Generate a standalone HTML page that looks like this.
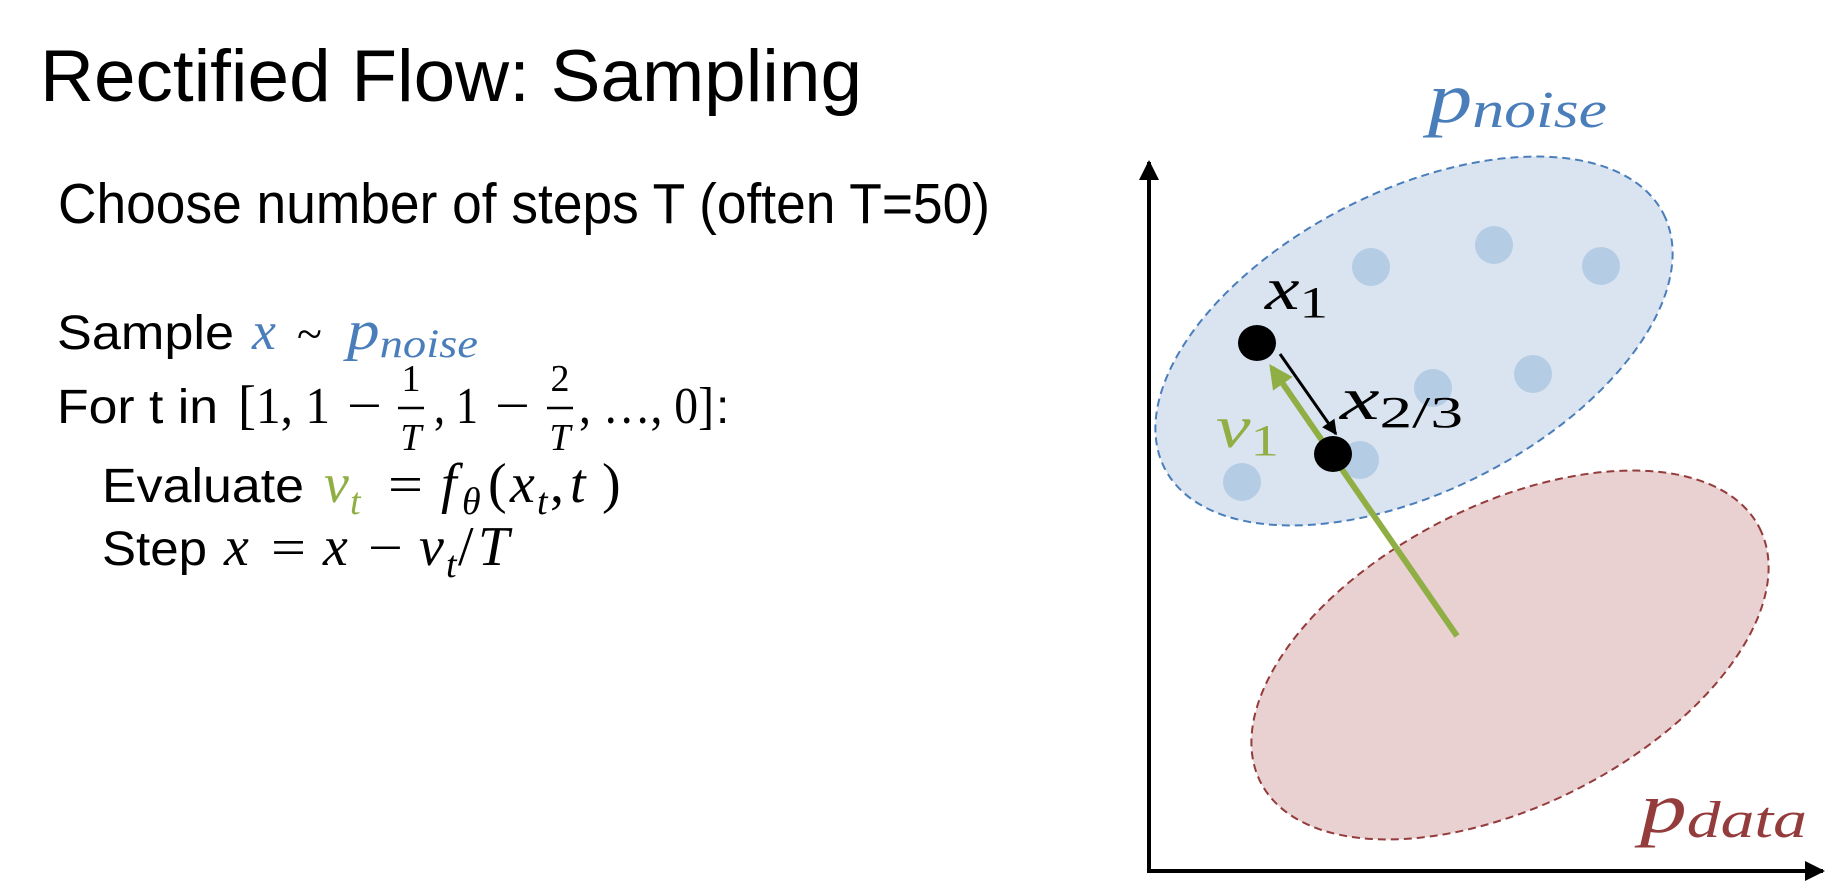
<!DOCTYPE html>
<html><head><meta charset="utf-8"><style>
html,body{margin:0;padding:0;background:#fff;}
svg{display:block;}
.s{font-family:"Liberation Sans",sans-serif;fill:#000;}
.m{font-family:"Liberation Serif",serif;font-style:italic;}
.r{font-family:"Liberation Serif",serif;}
</style></head><body>
<svg width="1826" height="886" viewBox="0 0 1826 886">
<defs>
<marker id="ah" viewBox="0 0 10 10" refX="9" refY="5" markerWidth="5" markerHeight="5" orient="auto"><path d="M0,0 L10,5 L0,10 z" fill="#000"/></marker>
<marker id="ahg" viewBox="0 0 10 10" refX="8" refY="5" markerWidth="4" markerHeight="4" orient="auto"><path d="M0,0 L10,5 L0,10 z" fill="#8faf45"/></marker>
<marker id="axh" viewBox="0 0 10 10" refX="9" refY="5" markerWidth="5" markerHeight="5" orient="auto"><path d="M0,0 L10,5 L0,10 z" fill="#000"/></marker>
</defs>
<text class="s" x="40" y="101" font-size="73" textLength="822" lengthAdjust="spacingAndGlyphs">Rectified Flow: Sampling</text>
<text class="s" x="58" y="223" font-size="57" textLength="932" lengthAdjust="spacingAndGlyphs">Choose number of steps T (often T=50)</text>

<g>
<text class="s" x="57" y="349" font-size="48" textLength="177" lengthAdjust="spacingAndGlyphs">Sample</text>
<text class="m" x="252" y="349" font-size="54" fill="#4a7ebb">x</text>
<text class="r" x="297" y="349" font-size="46">~</text>
<text class="m" x="347" y="349" font-size="56" fill="#4a7ebb" textLength="131" lengthAdjust="spacingAndGlyphs">p<tspan font-size="40" dy="8">noise</tspan></text>
</g>
<g>
<text class="s" x="57" y="423" font-size="48" textLength="161" lengthAdjust="spacingAndGlyphs">For t in</text>
<text class="r" x="238" y="423" font-size="54">[</text>
<text class="r" x="256" y="423" font-size="52" textLength="74" lengthAdjust="spacingAndGlyphs">1, 1</text>
<text class="r" x="347" y="423" font-size="52" textLength="35" lengthAdjust="spacingAndGlyphs">−</text>
<text class="r" x="411" y="391" font-size="38" text-anchor="middle">1</text>
<line x1="398" y1="408" x2="424" y2="408" stroke="#000" stroke-width="2.5"/>
<text class="m" x="411" y="450" font-size="38" text-anchor="middle">T</text>
<text class="r" x="434" y="423" font-size="52" textLength="44" lengthAdjust="spacingAndGlyphs">, 1</text>
<text class="r" x="495" y="423" font-size="52" textLength="35" lengthAdjust="spacingAndGlyphs">−</text>
<text class="r" x="560" y="391" font-size="38" text-anchor="middle">2</text>
<line x1="547" y1="408" x2="573" y2="408" stroke="#000" stroke-width="2.5"/>
<text class="m" x="560" y="450" font-size="38" text-anchor="middle">T</text>
<text class="r" x="579" y="423" font-size="52" textLength="135" lengthAdjust="spacingAndGlyphs">, …, 0]</text>
<text class="s" x="716" y="423" font-size="48">:</text>
</g>
<g>
<text class="s" x="102" y="502" font-size="48" textLength="202" lengthAdjust="spacingAndGlyphs">Evaluate</text>
<text class="m" x="324" y="502" font-size="56" fill="#8faf45">v</text>
<text class="m" x="350" y="514" font-size="38" fill="#8faf45">t</text>
<text class="r" x="388" y="502" font-size="52" textLength="35" lengthAdjust="spacingAndGlyphs">=</text>
<text class="m" x="441" y="502" font-size="56">f</text>
<text class="m" x="462" y="514" font-size="38">θ</text>
<text class="r" x="488" y="502" font-size="56">(</text>
<text class="m" x="510" y="502" font-size="56">x</text>
<text class="m" x="537" y="514" font-size="38">t</text>
<text class="r" x="550" y="502" font-size="56">,</text>
<text class="m" x="570" y="502" font-size="56">t</text>
<text class="r" x="602" y="502" font-size="56">)</text>
</g>
<g>
<text class="s" x="102" y="565" font-size="48" textLength="105" lengthAdjust="spacingAndGlyphs">Step</text>
<text class="m" x="224" y="565" font-size="56">x</text>
<text class="r" x="271" y="565" font-size="52" textLength="35" lengthAdjust="spacingAndGlyphs">=</text>
<text class="m" x="323" y="565" font-size="56">x</text>
<text class="r" x="368" y="565" font-size="52" textLength="35" lengthAdjust="spacingAndGlyphs">−</text>
<text class="m" x="419" y="565" font-size="56">v</text>
<text class="m" x="446" y="577" font-size="38">t</text>
<text class="r" x="458" y="565" font-size="56">/</text>
<text class="m" x="478" y="565" font-size="56">T</text>
</g>

<g>
<line x1="1149" y1="871" x2="1149" y2="162" stroke="#000" stroke-width="4" marker-end="url(#axh)"/>
<line x1="1147" y1="871" x2="1823" y2="871" stroke="#000" stroke-width="4" marker-end="url(#axh)"/>
<ellipse cx="1510" cy="655" rx="280" ry="150" transform="rotate(-27 1510 655)" fill="#e9d1d2" stroke="#943b3b" stroke-width="2" stroke-dasharray="8 5"/>
<ellipse cx="1414" cy="341" rx="280" ry="150" transform="rotate(-27 1414 341)" fill="#dae4f0" stroke="#4a7ebb" stroke-width="2" stroke-dasharray="8 5"/>
<g fill="#b4cce4">
<circle cx="1371" cy="267" r="19"/><circle cx="1494" cy="245" r="19"/><circle cx="1601" cy="266" r="19"/>
<circle cx="1433" cy="388" r="19"/><circle cx="1533" cy="374" r="19"/><circle cx="1360" cy="460" r="19"/><circle cx="1242" cy="482" r="19"/>
</g>
<line x1="1457" y1="636" x2="1272" y2="368" stroke="#8faf45" stroke-width="6" marker-end="url(#ahg)"/>
<line x1="1280" y1="354" x2="1336" y2="434" stroke="#000" stroke-width="3" marker-end="url(#ah)"/>
<ellipse cx="1257" cy="343" rx="19" ry="18" fill="#000"/>
<ellipse cx="1333" cy="454" rx="19" ry="18" fill="#000"/>
<text class="m" x="1265" y="309" font-size="60" textLength="63" lengthAdjust="spacingAndGlyphs">x<tspan font-style="normal" font-size="44" dy="8">1</tspan></text>
<text class="m" x="1340" y="419" font-size="60" textLength="123" lengthAdjust="spacingAndGlyphs">x<tspan font-style="normal" font-size="44" dy="8">2/3</tspan></text>
<text class="m" x="1216" y="447" font-size="60" fill="#8faf45" textLength="63" lengthAdjust="spacingAndGlyphs">v<tspan font-style="normal" font-size="44" dy="8">1</tspan></text>
<text class="m" x="1428" y="122" font-size="72" fill="#4a7ebb" textLength="179" lengthAdjust="spacingAndGlyphs">p<tspan font-size="52" dy="5">noise</tspan></text>
<text class="m" x="1640" y="832" font-size="72" fill="#943b3b" textLength="167" lengthAdjust="spacingAndGlyphs">p<tspan font-size="52" dy="5">data</tspan></text>
</g>
</svg>
</body></html>
